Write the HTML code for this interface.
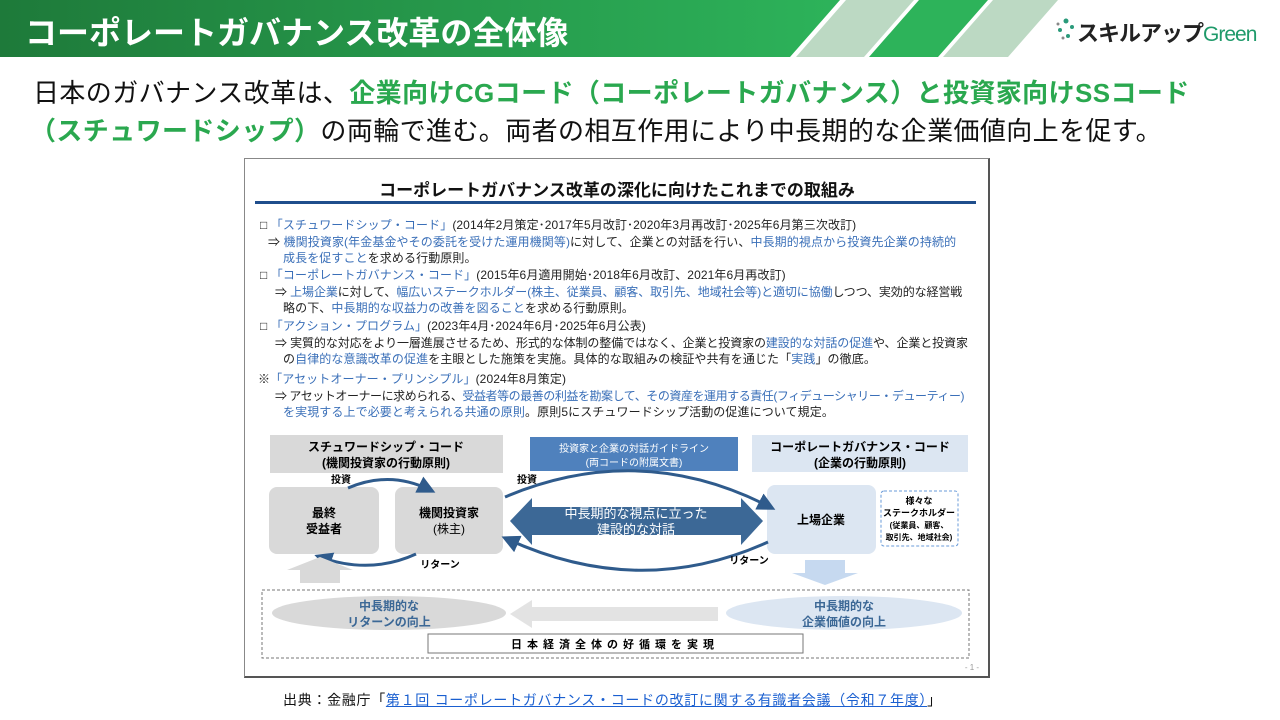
<!DOCTYPE html>
<html><head><meta charset="utf-8">
<style>
*{margin:0;padding:0;box-sizing:border-box}
body{width:1280px;height:720px;background:#fff;position:relative;overflow:hidden;font-family:"Liberation Sans","Noto Sans CJK JP",sans-serif;color:#111}
.a{position:absolute;white-space:nowrap}
.g{color:#2aa84f;font-weight:bold}
.t{font-size:12px;color:#222;letter-spacing:0.1px}
.b{color:#3a6fb8}
</style></head><body>
<svg class="a" style="left:0;top:0" width="1280" height="60">
<defs><linearGradient id="hg" x1="0" x2="1"><stop offset="0" stop-color="#1e7a3a"/><stop offset="1" stop-color="#2db35a"/></linearGradient></defs>
<polygon points="0,0 840,0 790,57 0,57" fill="url(#hg)"/>
<polygon points="846,0 914,0 864,57 796,57" fill="#bcd9c3"/>
<polygon points="919,0 988,0 938,57 869,57" fill="#2db35a"/>
<polygon points="993,0 1058,0 1008,57 943,57" fill="#bcd9c3"/>
<g fill="#2a9a7a"><circle cx="1066" cy="21" r="2.5"/><circle cx="1072" cy="27" r="2"/><circle cx="1060" cy="30" r="2"/><circle cx="1068" cy="36" r="2"/><circle cx="1058" cy="24" r="1.5" fill="#888"/><circle cx="1063" cy="38" r="1.5" fill="#888"/></g>
</svg>
<div class="a" style="left:25px;top:8px;font-size:32px;font-weight:bold;color:#fff">コーポレートガバナンス改革の全体像</div>
<div class="a" style="left:1077px;top:16px;font-size:22px;font-weight:bold;color:#222;letter-spacing:-1px">スキルアップ<span style="color:#1f9a6a;font-weight:normal;font-size:21px">Green</span></div>

<div class="a" style="left:33px;top:73px;font-size:26px;letter-spacing:0.4px">日本のガバナンス改革は、<span class="g">企業向けCGコード（コーポレートガバナンス）と投資家向けSSコード</span></div>
<div class="a" style="left:30px;top:111px;font-size:26px;letter-spacing:0.4px"><span class="g">（スチュワードシップ）</span>の両輪で進む。両者の相互作用により中長期的な企業価値向上を促す。</div>

<div class="a" style="left:244px;top:158px;width:746px;height:520px;border:1px solid #888;border-right:2px solid #555;border-bottom:2px solid #555;background:#fff"></div>
<div class="a" style="left:245px;top:176px;width:744px;text-align:center;font-size:17px;font-weight:bold;color:#111">コーポレートガバナンス改革の深化に向けたこれまでの取組み</div>
<div class="a" style="left:255px;top:201px;width:721px;height:3px;background:#1f4e8c"></div>

<div class="a t" style="left:260px;top:216px"><b>□</b> <span class="b">「スチュワードシップ・コード」</span>(2014年2月策定･2017年5月改訂･2020年3月再改訂･2025年6月第三次改訂)</div>
<div class="a t" style="left:268px;top:233px">⇒ <span class="b">機関投資家(年金基金やその委託を受けた運用機関等)</span>に対して、企業との対話を行い、<span class="b">中長期的視点から投資先企業の持続的</span></div>
<div class="a t" style="left:283px;top:249px"><span class="b">成長を促すこと</span>を求める行動原則。</div>
<div class="a t" style="left:260px;top:266px"><b>□</b> <span class="b">「コーポレートガバナンス・コード」</span>(2015年6月適用開始･2018年6月改訂、2021年6月再改訂)</div>
<div class="a t" style="left:275px;top:283px;letter-spacing:-0.1px">⇒ <span class="b">上場企業</span>に対して、<span class="b">幅広いステークホルダー(株主、従業員、顧客、取引先、地域社会等)と適切に協働</span>しつつ、実効的な経営戦</div>
<div class="a t" style="left:283px;top:299px">略の下、<span class="b">中長期的な収益力の改善を図ること</span>を求める行動原則。</div>
<div class="a t" style="left:260px;top:317px"><b>□</b> <span class="b">「アクション・プログラム」</span>(2023年4月･2024年6月･2025年6月公表)</div>
<div class="a t" style="left:275px;top:334px;letter-spacing:-0.1px">⇒ 実質的な対応をより一層進展させるため、形式的な体制の整備ではなく、企業と投資家の<span class="b">建設的な対話の促進</span>や、企業と投資家</div>
<div class="a t" style="left:283px;top:350px">の<span class="b">自律的な意識改革の促進</span>を主眼とした施策を実施。具体的な取組みの検証や共有を通じた「<span class="b">実践</span>」の徹底。</div>
<div class="a t" style="left:258px;top:370px">※<span class="b">「アセットオーナー・プリンシプル」</span>(2024年8月策定)</div>
<div class="a t" style="left:275px;top:387px;letter-spacing:-0.45px">⇒ アセットオーナーに求められる、<span class="b">受益者等の最善の利益を勘案して、その資産を運用する責任(フィデューシャリー・デューティー)</span></div>
<div class="a t" style="left:283px;top:403px"><span class="b">を実現する上で必要と考えられる共通の原則</span>。原則5にスチュワードシップ活動の促進について規定。</div>

<svg class="a" style="left:0;top:0" width="1280" height="720" font-family="Liberation Sans, Noto Sans CJK JP, sans-serif">
<defs>
<marker id="ah" markerWidth="6" markerHeight="6" refX="4" refY="3" orient="auto"><path d="M0,0 L6,3 L0,6 z" fill="#2f5b8c"/></marker>
</defs>
<rect x="270" y="435" width="233" height="38" fill="#d9d9d9"/>
<text x="386" y="451" font-size="12" font-weight="bold" text-anchor="middle">スチュワードシップ・コード</text>
<text x="386" y="467" font-size="12" font-weight="bold" text-anchor="middle">(機関投資家の行動原則)</text>
<rect x="530" y="437" width="208" height="34" fill="#4f81bd"/>
<text x="634" y="452" font-size="10" fill="#fff" text-anchor="middle">投資家と企業の対話ガイドライン</text>
<text x="634" y="466" font-size="10" fill="#fff" text-anchor="middle">(両コードの附属文書)</text>
<rect x="752" y="435" width="216" height="37" fill="#dce6f2"/>
<text x="860" y="451" font-size="12" font-weight="bold" text-anchor="middle">コーポレートガバナンス・コード</text>
<text x="860" y="467" font-size="12" font-weight="bold" text-anchor="middle">(企業の行動原則)</text>

<rect x="269" y="487" width="110" height="67" rx="8" fill="#d9d9d9"/>
<text x="324" y="517" font-size="12" font-weight="bold" text-anchor="middle">最終</text>
<text x="324" y="533" font-size="12" font-weight="bold" text-anchor="middle">受益者</text>
<rect x="395" y="487" width="108" height="67" rx="8" fill="#d9d9d9"/>
<text x="449" y="517" font-size="12" font-weight="bold" text-anchor="middle">機関投資家</text>
<text x="449" y="533" font-size="12" text-anchor="middle">(株主)</text>
<rect x="767" y="485" width="109" height="69" rx="8" fill="#dce6f2"/>
<text x="821" y="524" font-size="12" font-weight="bold" text-anchor="middle">上場企業</text>
<rect x="881" y="491" width="77" height="55" rx="3" fill="#fff" stroke="#6a9bd8" stroke-dasharray="3,2"/>
<text x="919" y="504" font-size="9" font-weight="bold" text-anchor="middle">様々な</text>
<text x="919" y="516" font-size="9" font-weight="bold" text-anchor="middle">ステークホルダー</text>
<text x="919" y="528" font-size="8" font-weight="bold" text-anchor="middle">(従業員、顧客、</text>
<text x="919" y="540" font-size="8" font-weight="bold" text-anchor="middle">取引先、地域社会)</text>

<polygon points="510,521 532,498 532,507 741,507 741,498 763,521 741,545 741,535 532,535 532,545" fill="#3c6896"/>
<text x="636" y="518" font-size="13" fill="#fff" text-anchor="middle">中長期的な視点に立った</text>
<text x="636" y="534" font-size="13" fill="#fff" text-anchor="middle">建設的な対話</text>

<g fill="none" stroke="#2f5b8c" stroke-width="3">
<path d="M348,488 Q390,470 430,490" marker-end="url(#ah)"/>
<path d="M416,554 Q370,575 320,557" marker-end="url(#ah)"/>
<path d="M505,497 Q640,440 770,507" marker-end="url(#ah)"/>
<path d="M768,542 Q640,600 507,539" marker-end="url(#ah)"/>
</g>
<text x="341" y="483" font-size="10" font-weight="bold" text-anchor="middle">投資</text>
<text x="527" y="483" font-size="10" font-weight="bold" text-anchor="middle">投資</text>
<text x="440" y="568" font-size="10" font-weight="bold" text-anchor="middle">リターン</text>
<text x="749" y="564" font-size="10" font-weight="bold" text-anchor="middle">リターン</text>

<polygon points="320,557 353,570 340,570 340,583 300,583 300,570 287,570" fill="#d9d9d9"/>
<polygon points="805,560 845,560 845,573 858,573 825,585 792,573 805,573" fill="#c6d9f0"/>

<rect x="262" y="590" width="707" height="68" fill="none" stroke="#777" stroke-dasharray="3,2"/>
<ellipse cx="389" cy="613" rx="117" ry="17" fill="#d9d9d9"/>
<text x="389" y="610" font-size="12" font-weight="bold" fill="#3c6896" text-anchor="middle">中長期的な</text>
<text x="389" y="626" font-size="12" font-weight="bold" fill="#3c6896" text-anchor="middle">リターンの向上</text>
<ellipse cx="844" cy="613" rx="118" ry="17" fill="#dce6f2"/>
<text x="844" y="610" font-size="12" font-weight="bold" fill="#3c6896" text-anchor="middle">中長期的な</text>
<text x="844" y="626" font-size="12" font-weight="bold" fill="#3c6896" text-anchor="middle">企業価値の向上</text>
<polygon points="510,614 532,600 532,607 718,607 718,621 532,621 532,628" fill="#e3e3e3"/>
<rect x="428" y="634" width="375" height="19" fill="#fff" stroke="#777"/>
<text x="615" y="648" font-size="11" font-weight="bold" text-anchor="middle" letter-spacing="5">日本経済全体の好循環を実現</text>
<text x="972" y="670" font-size="8" fill="#999" text-anchor="middle">- 1 -</text>
</svg>

<div class="a" style="left:283px;top:690px;font-size:14px;letter-spacing:0.7px">出典：金融庁「<span style="color:#1a5fd0;text-decoration:underline">第１回 コーポレートガバナンス・コードの改訂に関する有識者会議（令和７年度）</span>」</div>
</body></html>
